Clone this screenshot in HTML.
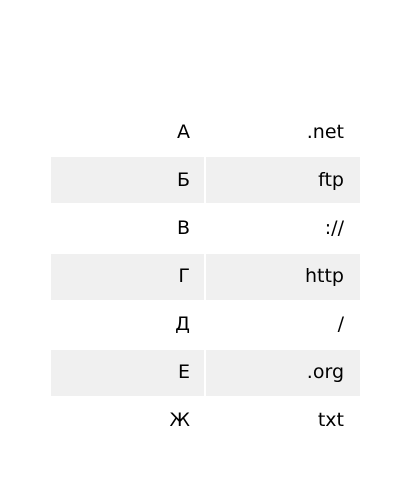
<!DOCTYPE html>
<html><head><meta charset="utf-8"><style>
body{margin:0;width:400px;height:500px;background:#fff;position:relative;font-family:"DejaVu Sans",sans-serif;font-size:19px;color:#000;overflow:hidden}
.bg{position:absolute;background:#f0f0f0;height:46px}
.t{position:absolute;height:48px;line-height:48px;text-align:right}
</style></head><body>
<div class="bg" style="left:51px;width:153px;top:157px"></div>
<div class="bg" style="left:206px;width:154px;top:157px"></div>
<div class="bg" style="left:51px;width:153px;top:254px"></div>
<div class="bg" style="left:206px;width:154px;top:254px"></div>
<div class="bg" style="left:51px;width:153px;top:350px"></div>
<div class="bg" style="left:206px;width:154px;top:350px"></div>

<div class="t" style="left:51px;width:139px;top:108px">А</div>
<div class="t" style="left:206px;width:138px;top:108px">.net</div>
<div class="t" style="left:51px;width:139px;top:156px">Б</div>
<div class="t" style="left:206px;width:138px;top:156px">ftp</div>
<div class="t" style="left:51px;width:139px;top:204px">В</div>
<div class="t" style="left:206px;width:138px;top:204px">://</div>
<div class="t" style="left:51px;width:139px;top:252px">Г</div>
<div class="t" style="left:206px;width:138px;top:252px">http</div>
<div class="t" style="left:51px;width:139px;top:300px">Д</div>
<div class="t" style="left:206px;width:138px;top:300px">/</div>
<div class="t" style="left:51px;width:139px;top:348px">Е</div>
<div class="t" style="left:206px;width:138px;top:348px">.org</div>
<div class="t" style="left:51px;width:139px;top:396px">Ж</div>
<div class="t" style="left:206px;width:138px;top:396px">txt</div>
</body></html>
